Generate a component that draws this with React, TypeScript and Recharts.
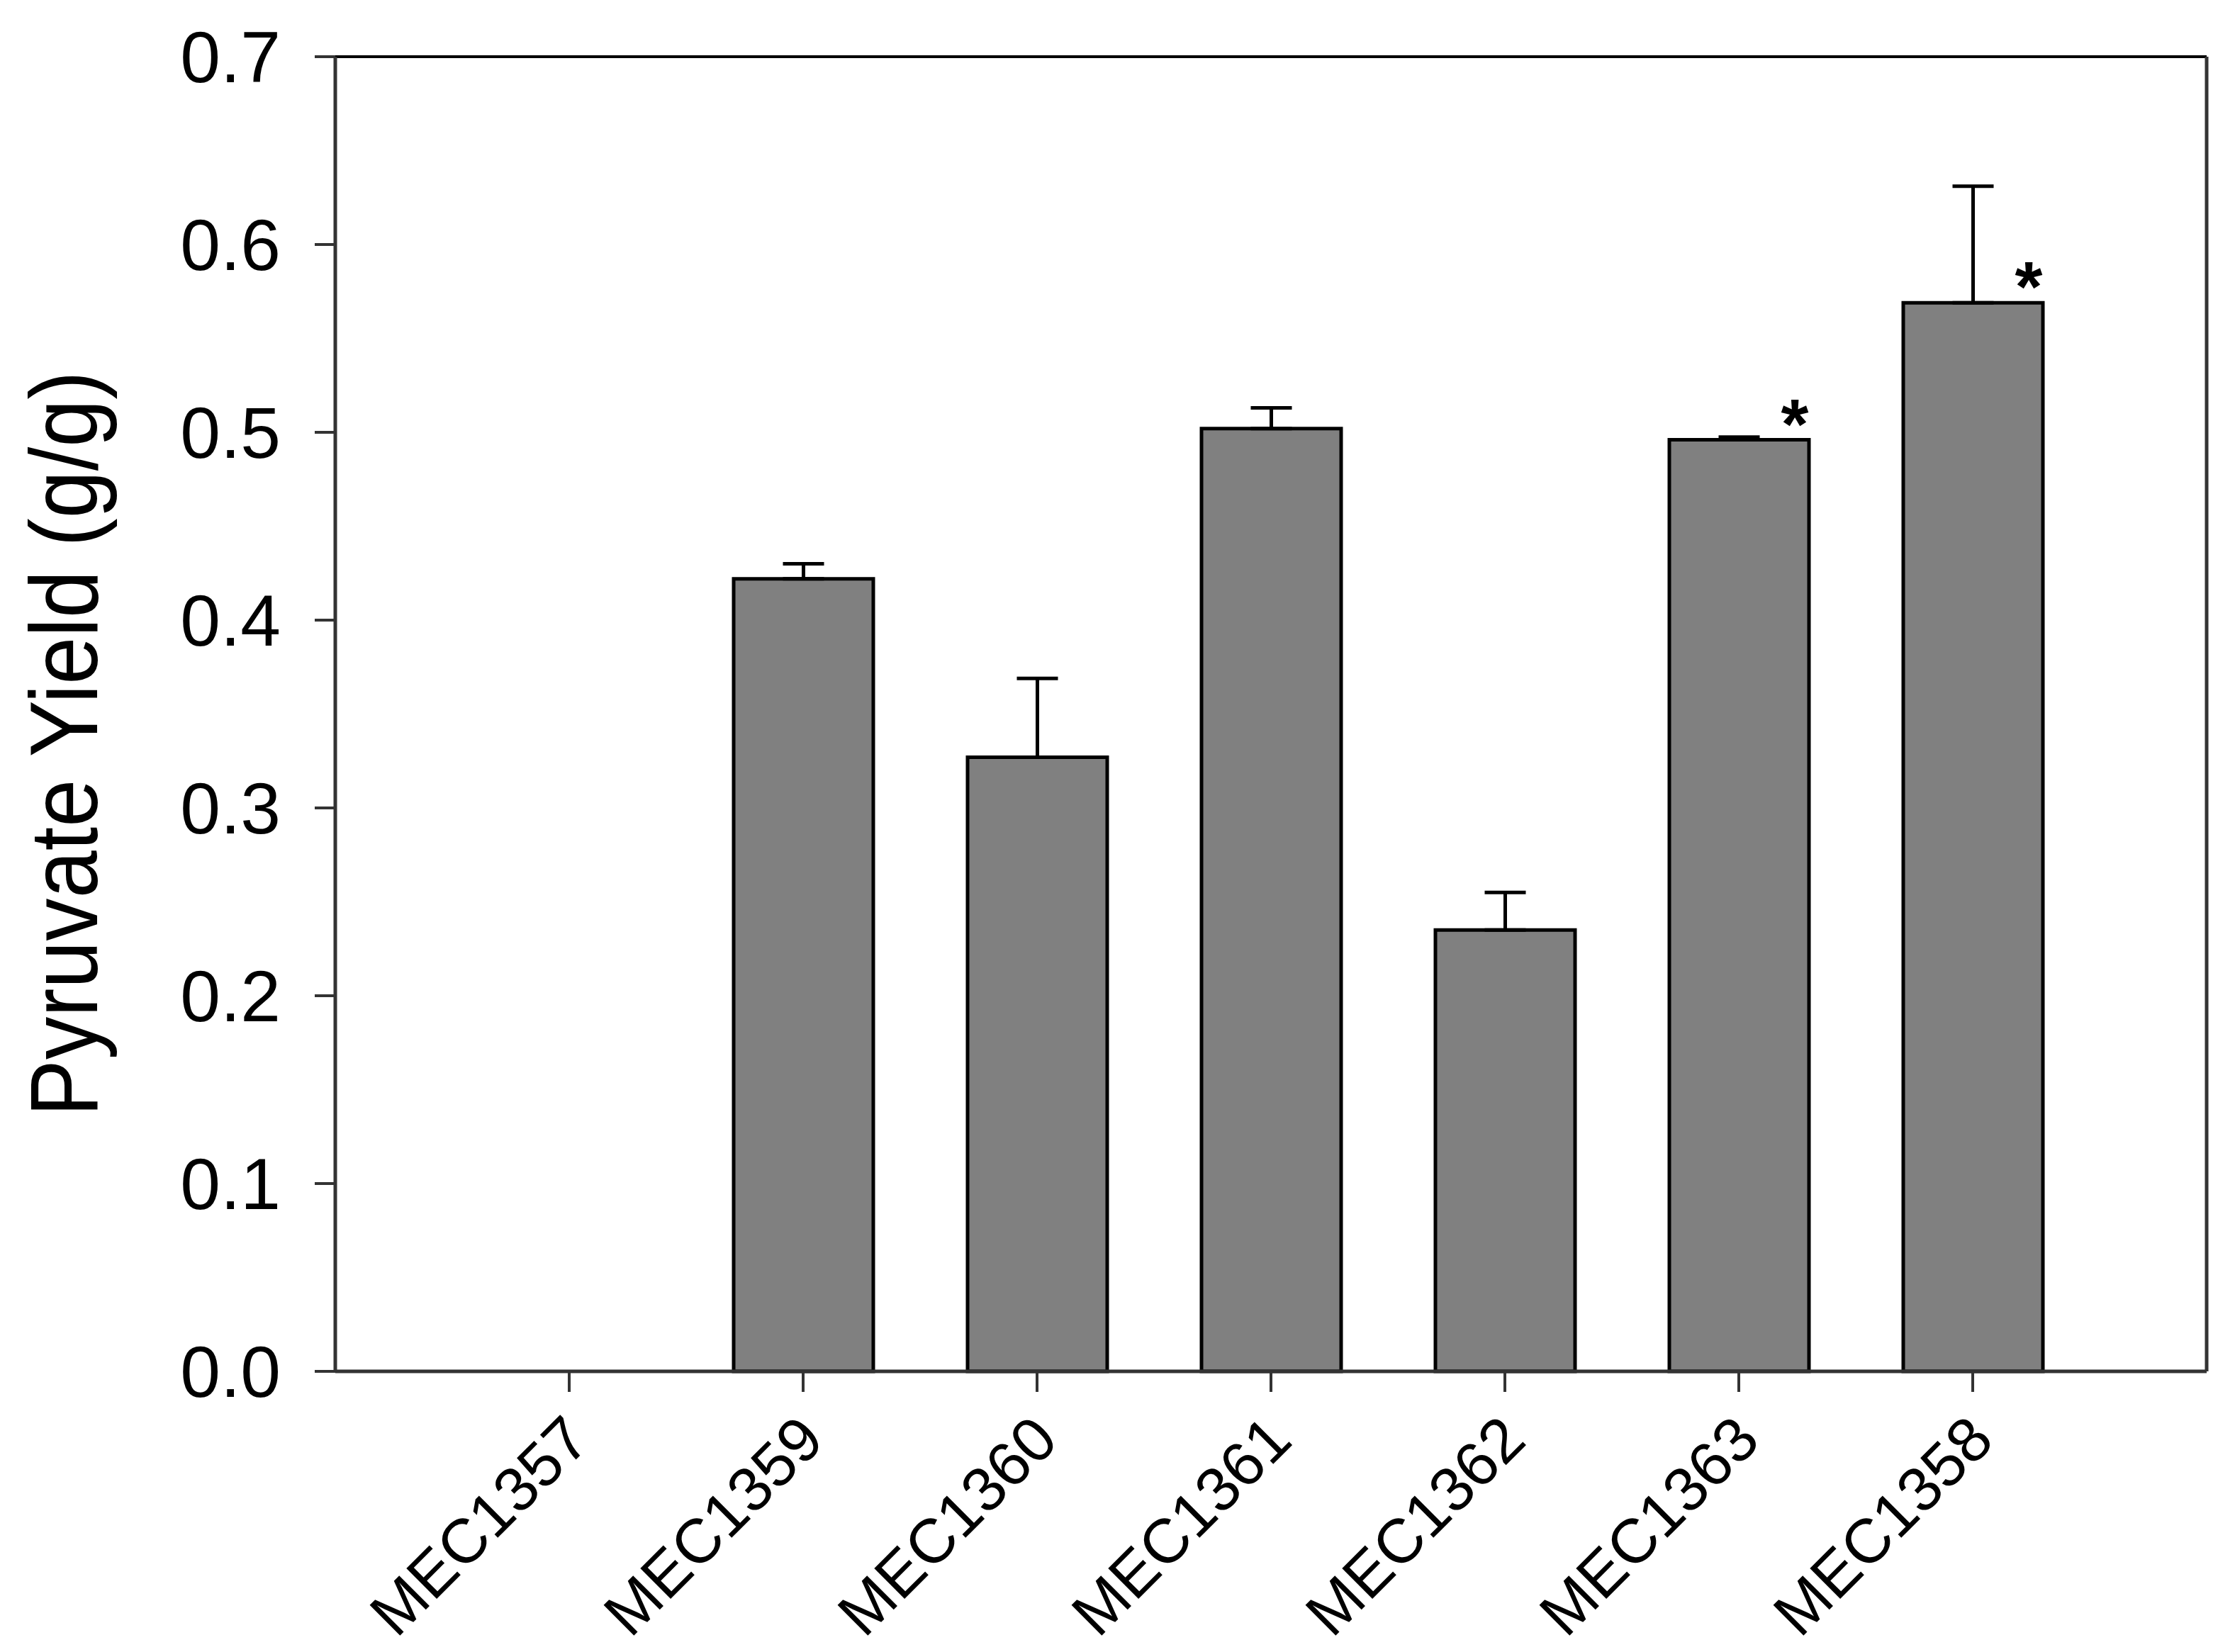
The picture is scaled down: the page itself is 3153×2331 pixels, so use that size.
import React from 'react';
import { BarChart, Bar, XAxis, YAxis, ErrorBar, LabelList, Label } from 'recharts';

const strains = ['MEC1357', 'MEC1359', 'MEC1360', 'MEC1361', 'MEC1362', 'MEC1363', 'MEC1358'];
const yieldMean = [0, 0.422, 0.327, 0.502, 0.235, 0.496, 0.569];
const yieldErrUp: (number | null)[] = [null, 0.008, 0.042, 0.011, 0.02, 0.0015, 0.062];
const significant = [false, false, false, false, false, true, true];
const yTicks = [0, 0.1, 0.2, 0.3, 0.4, 0.5, 0.6, 0.7];
const yLabel = 'Pyruvate Yield (g/g)';

const data = strains.map((s, i) => ({
  strain: s,
  value: yieldMean[i],
  err: yieldErrUp[i] == null ? null : [0, yieldErrUp[i] as number],
  sig: significant[i],
}));

const FONT = '"Liberation Sans", Arial, sans-serif';
const AXIS = '#333333';

const XTick = (props: any) => {
  const { x, y, payload } = props;
  const ax = x + 33;
  const ay = y + 72;
  return (
    <text
      x={ax}
      y={ay}
      transform={`rotate(-45 ${ax} ${ay})`}
      textAnchor="end"
      fontSize={88}
      fill="#000"
      fontFamily={FONT}
    >
      {payload.value}
    </text>
  );
};

const renderYLabel = (props: any) => {
  const vb = props.viewBox || { x: 0, y: 80, width: 473, height: 1855 };
  const cx = vb.x + 137;
  const cy = vb.y + vb.height / 2 + 42;
  return (
    <text
      x={cx}
      y={cy}
      transform={`rotate(-90 ${cx} ${cy})`}
      textAnchor="middle"
      fontSize={135}
      textLength={1052}
      lengthAdjust="spacingAndGlyphs"
      fill="#000"
      fontFamily={FONT}
    >
      {yLabel}
    </text>
  );
};

const renderSig = (props: any) => {
  const { x, y, width, value } = props;
  if (!value) return null;
  return (
    <text
      x={x + width - 20}
      y={y + 12}
      textAnchor="middle"
      fontSize={100}
      fontWeight="bold"
      fill="#000"
      fontFamily={FONT}
    >
      *
    </text>
  );
};

export default function App() {
  return (
    <div style={{ position: 'absolute', left: 0, top: 0, background: '#fff', fontFamily: FONT }}>
      <BarChart
        width={3153}
        height={2331}
        data={data}
        margin={{ top: 79, right: 39, left: 0, bottom: 0 }}
      >
        <XAxis
          xAxisId="top"
          orientation="top"
          dataKey="strain"
          height={1}
          tick={false}
          tickLine={false}
          padding={{ left: 165, right: 165 }}
          axisLine={{ stroke: '#000', strokeWidth: 4 }}
        />
        <YAxis
          yAxisId="right"
          orientation="right"
          type="number"
          width={1}
          domain={[0, 0.7]}
          allowDataOverflow
          tick={false}
          tickLine={false}
          axisLine={{ stroke: AXIS, strokeWidth: 5 }}
        />
        <XAxis
          dataKey="strain"
          interval={0}
          height={396}
          padding={{ left: 165, right: 165 }}
          tickSize={29}
          tickMargin={0}
          tick={<XTick />}
          tickLine={{ stroke: AXIS, strokeWidth: 4 }}
          axisLine={{ stroke: AXIS, strokeWidth: 5 }}
        />
        <YAxis
          type="number"
          width={473}
          domain={[0, 0.7]}
          ticks={yTicks}
          interval={0}
          tickFormatter={(v: number) => v.toFixed(1)}
          tickSize={29}
          tickMargin={48}
          tick={{ fontSize: 102, fill: '#000', fontFamily: FONT }}
          tickLine={{ stroke: AXIS, strokeWidth: 4 }}
          axisLine={{ stroke: AXIS, strokeWidth: 5 }}
        >
          <Label content={renderYLabel} />
        </YAxis>
        <Bar
          dataKey="value"
          fill="#808080"
          stroke="#000"
          strokeWidth={5}
          barSize={197}
          isAnimationActive={false}
        >
          <ErrorBar dataKey="err" width={29} strokeWidth={5} stroke="#000" direction="y" />
          <LabelList dataKey="sig" content={renderSig} />
        </Bar>
      </BarChart>
    </div>
  );
}
